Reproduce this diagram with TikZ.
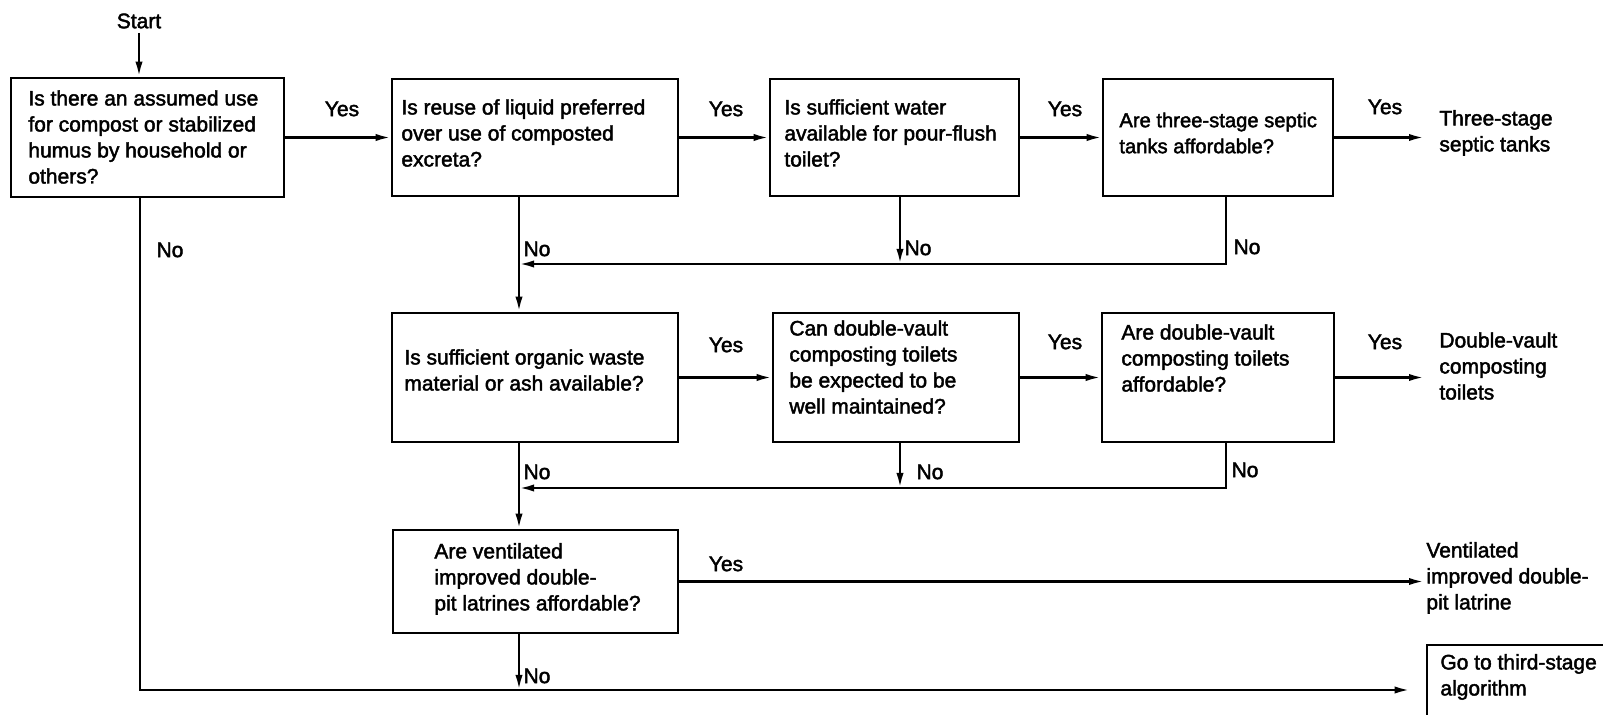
\documentclass[tikz,border=0pt]{standalone}
\usepackage{fontspec}
\setmainfont{Liberation Sans}
\newfontfamily\chartfont{Liberation Sans}[FakeBold=2]
\usetikzlibrary{arrows.meta}
\begin{document}
\begin{tikzpicture}[x=0.5pt,y=-0.5pt,
  qbox/.style={draw, line width=1.3pt, inner sep=0pt},
  qtext/.style={anchor=west, align=left, inner sep=0pt, font=\chartfont\fontsize{10.5}{13}\selectfont},
  lbl/.style={inner sep=0pt, font=\chartfont\fontsize{10.5}{13}\selectfont},
  flow/.style={line width=1.2pt},
  arr/.style={flow, -{Latex[length=7.5pt,width=3.6pt]}},
]
\clip (0,0) rectangle (1603,715);
\fill[white] (0,0) rectangle (1603,715);

% column and row guides for the "No" branches
\coordinate (cL) at (140,0);
\coordinate (cA) at (519,0);
\coordinate (cB) at (900,0);
\coordinate (cC) at (1226,0);
\coordinate (m1) at (0,264);
\coordinate (m2) at (0,488);
\coordinate (m3) at (0,690);

% question boxes
\node[qbox, minimum width=273*0.5pt, minimum height=119*0.5pt] (q1) at (147.5,137.5) {};
\node[qbox, minimum width=286*0.5pt, minimum height=117*0.5pt] (q2) at (535,137.5) {};
\node[qbox, minimum width=249*0.5pt, minimum height=117*0.5pt] (q3) at (894.5,137.5) {};
\node[qbox, minimum width=230*0.5pt, minimum height=117*0.5pt] (q4) at (1218,137.5) {};
\node[qbox, minimum width=286*0.5pt, minimum height=129*0.5pt] (q5) at (535,377.5) {};
\node[qbox, minimum width=246*0.5pt, minimum height=129*0.5pt] (q6) at (896,377.5) {};
\node[qbox, minimum width=232*0.5pt, minimum height=129*0.5pt] (q7) at (1218,377.5) {};
\node[qbox, minimum width=285*0.5pt, minimum height=103*0.5pt] (q8) at (535.5,581.5) {};
\node[qbox, minimum width=213*0.5pt, minimum height=85*0.5pt] (q9) at (1533.5,687.5) {};

% box texts
\node[qtext] (t1) at (28,137) {Is there an assumed use\\for compost or stabilized\\humus by household or\\others?};
\node[qtext] (t2) at (401,133) {Is reuse of liquid preferred\\over use of composted\\excreta?};
\node[qtext] (t3) at (784,133) {Is sufficient water\\available for pour-flush\\toilet?};
\node[qtext, font=\chartfont\fontsize{10.1}{13}\selectfont] (t4) at (1119,133) {Are three-stage septic\\tanks affordable?};
\node[qtext] (t5) at (404,370) {Is sufficient organic waste\\material or ash available?};
\node[qtext] (t6) at (789,367) {Can double-vault\\composting toilets\\be expected to be\\well maintained?};
\node[qtext] (t7) at (1121,358) {Are double-vault\\composting toilets\\affordable?};
\node[qtext] (t8) at (434,579) {Are ventilated\\improved double-\\pit latrines affordable?};
\node[qtext] (t9) at (1440,677) {Go to third-stage\\algorithm};

% outcomes
\node[qtext] (o1) at (1439,133) {Three-stage\\septic tanks};
\node[qtext] (o2) at (1439,366) {Double-vault\\composting\\toilets};
\node[qtext] (o3) at (1426,578) {Ventilated\\improved double-\\pit latrine};

% start
\node[lbl] (start) at (139,21) {Start};
\draw[arr] ([yshift=-2pt]start.south) -- (q1.north -| start.south);

% "Yes" connectors
\draw[arr] (q1.east) -- (q2.west);
\draw[arr] (q2.east) -- (q3.west);
\draw[arr] (q3.east) -- (q4.west);
\draw[arr, shorten >=7.5pt] (q4.east) -- (q4.east -| o1.west);
\draw[arr] (q5.east) -- (q6.west);
\draw[arr] (q6.east) -- (q7.west);
\draw[arr, shorten >=7.5pt] (q7.east) -- (q7.east -| o2.west);
\draw[arr, shorten >=1pt] (q8.east) -- (q8.east -| o3.west);

% "No" connectors
\draw[arr] (q2.south -| cA) -- (q5.north -| cA);
\draw[arr] (q3.south -| cB) -- (cB |- m1);
\draw[arr] (q4.south -| cC) |- (cA |- m1);
\draw[arr] (q5.south -| cA) -- (q8.north -| cA);
\draw[arr] (q6.south -| cB) -- (cB |- m2);
\draw[arr] (q7.south -| cC) |- (cA |- m2);
\draw[arr] (q8.south -| cA) -- (cA |- m3);
\draw[arr, shorten >=8pt] (q1.south -| cL) |- (q9.west |- m3);

% branch labels
\node[lbl] (y1) at (342,109) {Yes};
\node[lbl] (y2) at (726,109) {Yes};
\node[lbl] (y3) at (1065,109) {Yes};
\node[lbl] (y4) at (1385,107) {Yes};
\node[lbl] (y5) at (726,345) {Yes};
\node[lbl] (y6) at (1065,342) {Yes};
\node[lbl] (y7) at (1385,342) {Yes};
\node[lbl] (y8) at (726,564) {Yes};
\node[lbl] (n1) at (170,250) {No};
\node[lbl] (n2) at (537,249) {No};
\node[lbl] (n3) at (918,248) {No};
\node[lbl] (n4) at (1247,247) {No};
\node[lbl] (n5) at (537,472) {No};
\node[lbl] (n6) at (930,472) {No};
\node[lbl] (n7) at (1245,470) {No};
\node[lbl] (n8) at (537,676) {No};
\end{tikzpicture}
\end{document}
